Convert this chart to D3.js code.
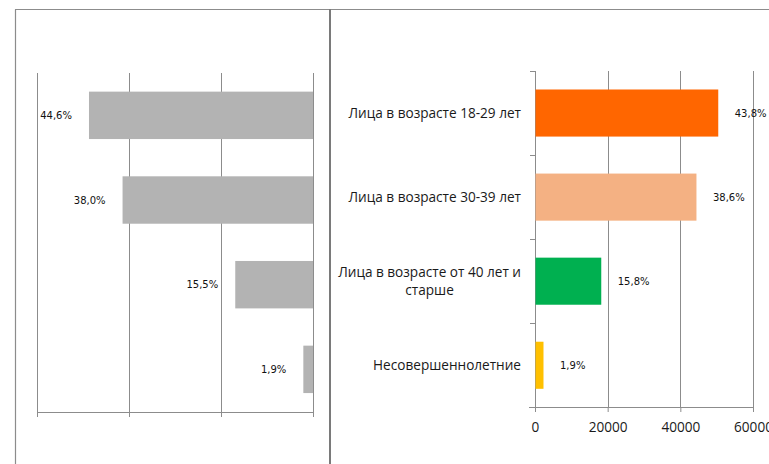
<!DOCTYPE html>
<html>
<head>
<meta charset="utf-8">
<script src="https://cdn.jsdelivr.net/npm/d3@7"></script>
<style>
  html, body { margin: 0; padding: 0; background: #fff; }
  svg { display: block; }
</style>
</head>
<body>
<svg id="chart" width="769" height="464"></svg>
<script>
// ---- data ----
const categories = [
  ["Лица в возрасте 18-29 лет"],
  ["Лица в возрасте 30-39 лет"],
  ["Лица в возрасте от 40 лет и", "старше"],
  ["Несовершеннолетние"]
];
const categoryKeys = ["c1", "c2", "c3", "c4"];
const leftValues = [48700, 41400, 16900, 2100];
const leftLabels = ["44,6%", "38,0%", "15,5%", "1,9%"];
const rightValues = [50300, 44300, 18100, 2200];
const rightLabels = ["43,8%", "38,6%", "15,8%", "1,9%"];
const rightColors = ["#FF6600", "#F4B183", "#00B050", "#FFC000"];
const leftColor = "#b3b3b3";
const xTicks = [0, 20000, 40000, 60000];

const svg = d3.select("#chart");
const gridColor = "#8c8c8c";
const catFont = "'Open Sans', 'Noto Sans', sans-serif";
const lblFont = "'DejaVu Sans', sans-serif";

// ---- frame ----
svg.append("line").attr("x1", 15).attr("x2", 769).attr("y1", 9.5).attr("y2", 9.5)
  .attr("stroke", gridColor).attr("stroke-width", 1.2);
svg.append("line").attr("x1", 15.5).attr("x2", 15.5).attr("y1", 9.5).attr("y2", 464)
  .attr("stroke", gridColor).attr("stroke-width", 1.2);
svg.append("line").attr("x1", 330).attr("x2", 330).attr("y1", 9).attr("y2", 464)
  .attr("stroke", "#7a7a7a").attr("stroke-width", 2);

// ---- left chart (reversed axis) ----
const xL = d3.scaleLinear().domain([0, 60000]).range([313, 37]);
const yL = d3.scaleBand().domain(categoryKeys).range([73, 411.7]).paddingInner(0.44).paddingOuter(0.22);
const gL = svg.append("g");
gL.selectAll("line.grid").data(xTicks).join("line")
  .attr("x1", d => Math.round(xL(d)) + 0.5).attr("x2", d => Math.round(xL(d)) + 0.5)
  .attr("y1", 73).attr("y2", 412)
  .attr("stroke", gridColor).attr("stroke-width", 1);
const axL = gL.append("g").attr("transform", "translate(0,412)")
  .call(d3.axisBottom(xL).tickValues(xTicks).tickSize(5).tickFormat(""));
axL.select(".domain").attr("stroke", gridColor).attr("d", `M${xL(60000)},0.5H${xL(0)}`);
axL.selectAll(".tick line").attr("stroke", gridColor);
gL.selectAll("rect.bar").data(leftValues).join("rect")
  .attr("x", d => xL(d)).attr("width", d => xL(0) - xL(d))
  .attr("y", (d, i) => yL(categoryKeys[i])).attr("height", yL.bandwidth())
  .attr("fill", leftColor);
gL.selectAll("text.lbl").data(leftValues).join("text")
  .attr("x", d => xL(d) - 17).attr("y", (d, i) => yL(categoryKeys[i]) + yL.bandwidth() / 2)
  .attr("dy", "0.35em").attr("text-anchor", "end")
  .attr("font-family", lblFont).attr("font-size", 10).attr("fill", "#111")
  .text((d, i) => leftLabels[i]);

// ---- right chart ----
const xR = d3.scaleLinear().domain([0, 60000]).range([535, 753]);
const yR = d3.scaleBand().domain(categoryKeys).range([71, 407.3]).paddingInner(0.44).paddingOuter(0.22);
const gR = svg.append("g");
gR.selectAll("line.grid").data(xTicks.slice(1)).join("line")
  .attr("x1", d => Math.round(xR(d)) + 0.5).attr("x2", d => Math.round(xR(d)) + 0.5)
  .attr("y1", 71).attr("y2", 407)
  .attr("stroke", gridColor).attr("stroke-width", 1);
const axRB = gR.append("g").attr("transform", "translate(0,407)")
  .call(d3.axisBottom(xR).tickValues(xTicks).tickSize(5).tickPadding(10).tickFormat(d3.format("d")));
axRB.select(".domain").attr("stroke", gridColor).attr("d", `M529,0.5H${xR(60000)}`);
axRB.selectAll(".tick line").attr("stroke", gridColor);
axRB.selectAll(".tick text").attr("font-family", catFont).attr("font-size", 13.6).attr("fill", "#1a1a1a");

// category axis ticks at band boundaries
const bounds = categoryKeys.map(k => yR(k) - yR.step() * yR.paddingInner() / 2).concat([407.3]);
gR.append("line").attr("x1", 535.5).attr("x2", 535.5).attr("y1", 71).attr("y2", 407.3)
  .attr("stroke", gridColor);
gR.selectAll("line.ctick").data(bounds).join("line")
  .attr("x1", 530).attr("x2", 535.5)
  .attr("y1", d => Math.round(d) + 0.5).attr("y2", d => Math.round(d) + 0.5)
  .attr("stroke", gridColor);

gR.selectAll("rect.bar").data(rightValues).join("rect")
  .attr("x", xR(0) + 0.5).attr("width", d => xR(d) - xR(0))
  .attr("y", (d, i) => yR(categoryKeys[i])).attr("height", yR.bandwidth())
  .attr("fill", (d, i) => rightColors[i]);
gR.selectAll("text.lbl").data(rightValues).join("text")
  .attr("x", d => xR(d) + 17).attr("y", (d, i) => yR(categoryKeys[i]) + yR.bandwidth() / 2)
  .attr("dy", "0.35em").attr("text-anchor", "start")
  .attr("font-family", lblFont).attr("font-size", 10).attr("fill", "#111")
  .text((d, i) => rightLabels[i]);

// category labels (right-aligned block, lines centered)
const lineH = 17.5;
categories.forEach((lines, i) => {
  const cy = yR(categoryKeys[i]) + yR.bandwidth() / 2;
  const t = gR.append("text")
    .attr("font-family", catFont).attr("font-size", 13.6).attr("fill", "#1a1a1a")
    .attr("text-anchor", "middle");
  const n = lines.length;
  lines.forEach((s, j) => {
    t.append("tspan").attr("x", 0).attr("y", cy + (j - (n - 1) / 2) * lineH)
      .attr("dy", "0.35em").text(s);
  });
  let maxW = 0;
  t.selectAll("tspan").each(function () { maxW = Math.max(maxW, this.getComputedTextLength()); });
  const cx = 521 - maxW / 2;
  t.selectAll("tspan").attr("x", cx);
});
</script>
</body>
</html>
